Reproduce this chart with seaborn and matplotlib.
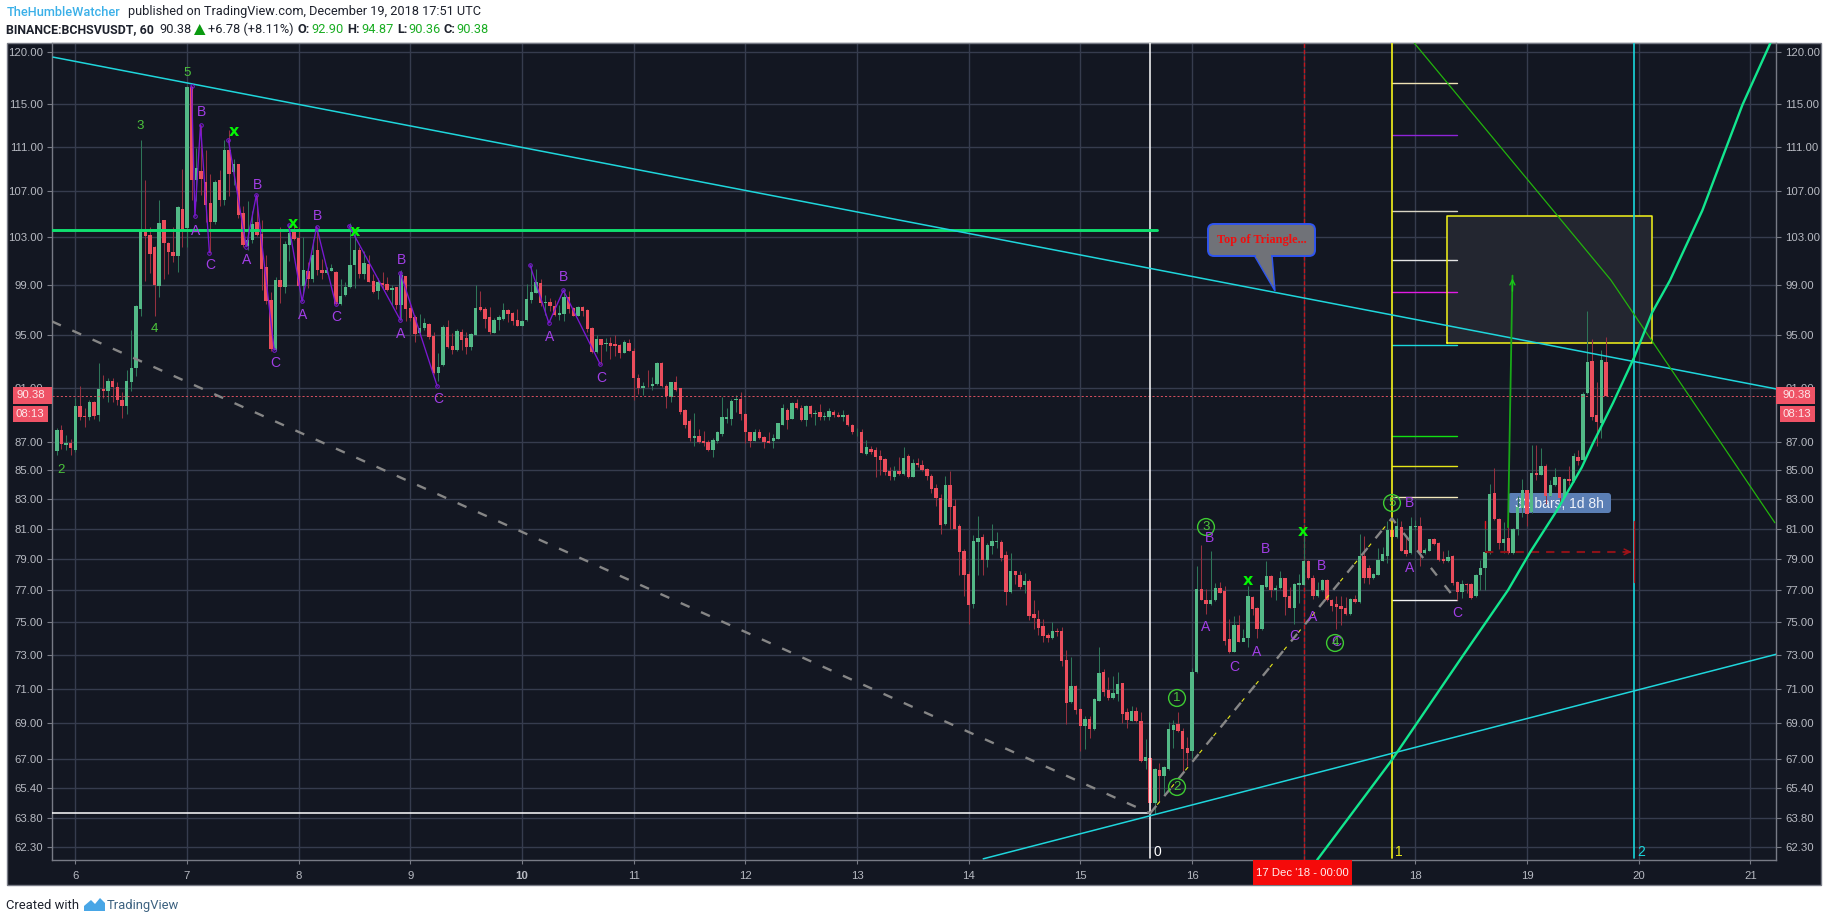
import numpy as np
import matplotlib
matplotlib.use('Agg')
import matplotlib.pyplot as plt
import seaborn as sns
from matplotlib.patches import Rectangle, FancyBboxPatch, Circle, Polygon
from matplotlib.ticker import FixedLocator, FixedFormatter, NullLocator
from matplotlib.transforms import IdentityTransform

W, H = 1828, 922

# hourly candles, first one is 5 Dec 20:00
bar_open = [
    86.35,87.85,86.8,86.9,86.4,89.65,88.9,88.85,89.9,88.95,
    90.9,90.75,91.5,91.05,90.1,89.65,91.4,92.45,97.05,103.6,
    103.2,102.2,98.95,104.45,102.55,101.8,101.4,105.45,103.8,116.6,
    107.95,108.75,107.8,105.95,104.35,108.0,106.25,110.7,108.7,109.4,
    105.05,102.25,102.8,104.35,103.3,100.5,97.85,93.9,99.45,98.85,
    102.35,103.45,102.95,98.95,100.2,99.5,101.95,100.3,100.05,100.2,
    100.1,97.5,98.2,98.85,100.7,101.95,99.95,100.8,99.35,98.55,
    99.2,99.1,98.6,98.85,97.4,99.75,97.2,96.45,95.2,95.6,
    95.9,94.95,92.1,92.7,95.65,94.2,93.85,95.3,94.8,94.1,
    95.05,97.25,97.1,96.45,95.2,96.2,96.3,97.0,96.8,96.2,
    95.75,96.2,97.8,98.4,99.2,97.6,97.65,97.35,96.6,96.7,
    98.05,97.2,96.55,97.25,97.0,95.6,93.7,94.7,94.35,94.4,
    94.35,94.25,93.65,94.4,93.8,91.7,91.0,91.15,91.1,91.25,
    92.85,91.15,90.3,91.4,90.95,89.3,88.55,87.3,87.45,87.1,
    87.0,86.45,87.1,87.6,88.7,88.7,90.1,90.15,89.05,87.7,
    87.1,87.7,87.4,87.1,87.1,87.25,88.25,89.35,88.7,89.85,
    89.45,88.6,89.65,89.05,89.2,88.85,88.85,89.2,89.0,88.85,
    89.0,88.25,87.7,87.75,86.15,86.5,86.4,86.0,85.8,84.95,
    84.55,84.95,84.75,86.0,84.55,85.5,85.4,85.1,84.6,83.8,
    83.1,81.3,84.0,82.5,81.15,79.55,78.05,76.15,80.1,80.45,
    78.95,79.85,80.15,80.1,79.25,76.9,78.2,78.0,77.3,77.6,
    75.5,75.2,74.75,74.2,74.0,74.45,74.45,72.7,70.2,71.15,
    69.8,68.85,69.25,68.65,70.3,71.95,70.9,70.45,70.7,71.3,
    69.65,69.15,69.7,69.15,66.9,67.05,64.6,66.4,66.05,66.45,
    68.6,68.95,68.55,67.6,67.45,71.95,77.1,76.4,76.1,76.35,
    77.15,76.95,73.95,73.2,74.85,73.8,74.0,76.55,75.85,74.55,
    77.2,77.9,77.0,77.15,77.75,76.6,75.9,77.3,77.35,78.85,
    77.8,76.6,77.0,77.65,76.4,76.1,76.0,75.9,75.5,76.45,
    76.25,79.2,78.4,77.75,78.0,78.9,79.2,80.9,80.45,81.1,
    79.6,79.4,81.1,81.2,79.4,79.55,80.3,80.05,79.0,78.85,
    79.2,77.55,76.9,77.4,77.4,76.6,77.95,78.4,79.4,83.45,
    81.65,80.05,80.4,79.4,80.95,82.4,83.6,82.1,84.8,84.7,
    85.3,83.25,83.95,84.5,83.15,84.4,84.25,85.95,85.75,90.6,
    93.05,89.0,88.4,92.9]
bar_close = [
    87.85,86.85,86.9,86.55,89.6,88.85,88.8,89.9,88.9,90.9,
    90.75,91.5,91.05,90.1,89.65,91.5,92.5,97.3,103.6,103.15,
    101.6,99.0,104.2,102.55,101.75,101.45,105.6,103.5,116.6,108.0,
    109.05,108.05,105.75,104.35,107.85,106.25,110.7,108.55,109.4,104.95,
    102.35,102.8,104.15,103.2,100.35,97.75,93.95,99.45,98.85,102.4,
    103.35,102.85,98.95,100.28,99.5,101.55,100.3,100.05,100.3,100.45,
    97.5,98.15,98.85,100.7,101.95,99.95,100.85,99.3,98.45,99.3,
    99.05,98.6,98.8,97.4,99.85,97.1,96.4,95.1,95.6,96.0,
    94.85,92.1,92.55,95.65,94.1,93.85,95.35,94.65,94.1,95.1,
    97.2,97.0,96.3,95.25,96.2,96.45,97.0,96.7,96.15,95.75,
    96.15,97.9,98.45,99.25,97.6,97.65,97.35,96.6,96.8,98.05,
    97.1,96.55,97.25,96.95,95.5,93.7,94.7,94.25,94.4,94.2,
    94.2,93.65,94.5,93.8,91.7,91.0,91.1,91.1,91.25,92.85,
    91.1,90.35,91.4,90.8,89.15,88.25,87.3,87.45,87.0,86.95,
    86.4,87.15,87.75,88.8,88.85,90.0,90.15,89.05,87.75,87.1,
    87.7,87.3,87.0,86.95,87.3,88.35,89.45,88.6,89.85,89.45,
    88.6,89.65,89.05,89.1,88.85,88.9,89.25,89.0,88.85,89.0,
    88.2,87.7,87.75,86.25,86.65,86.3,85.95,85.75,84.9,84.6,
    84.95,84.75,85.85,84.55,85.5,85.35,85.0,84.6,83.7,83.1,
    81.25,84.0,82.45,81.0,79.45,78.0,76.05,80.2,80.4,78.95,
    79.9,80.2,80.2,79.1,76.9,78.2,78.0,77.2,77.6,75.4,
    75.25,74.65,74.15,74.0,74.45,74.4,72.65,70.15,71.15,69.75,
    68.85,69.25,68.65,70.4,71.9,70.8,70.45,70.75,71.25,69.55,
    69.2,69.7,69.1,66.9,67.1,64.6,66.45,66.05,66.55,68.65,
    68.9,68.55,67.55,67.35,71.95,77.1,76.4,76.1,76.35,77.15,
    76.85,73.85,73.15,74.85,73.8,74.05,76.6,75.8,74.55,77.3,
    77.9,77.0,77.15,77.75,76.55,75.9,77.4,77.45,78.85,77.75,
    76.6,77.0,77.65,76.35,76.0,75.95,75.8,75.5,76.45,76.25,
    79.2,77.75,77.75,78.05,78.95,79.3,80.9,80.45,81.2,79.55,
    79.35,81.15,81.2,79.4,79.6,80.3,80.0,78.95,78.85,79.15,
    77.45,76.9,77.4,77.35,76.5,78.0,78.45,79.45,83.35,81.65,
    80.05,80.3,79.4,81.0,82.45,83.6,82.0,84.8,84.7,85.3,
    83.25,84.0,84.5,83.1,84.4,84.25,86.0,85.65,90.5,92.95,
    88.85,88.45,93.1,90.38]
bar_high = [
    88.05,88.2,87.5,87.2,90.2,91.15,89.5,90.1,90.0,92.85,
    91.95,91.7,91.7,91.45,90.7,92.35,95.45,97.4,111.6,107.95,
    103.9,102.3,106.2,104.5,102.6,103.9,105.7,109.0,116.7,116.7,
    110.85,113.0,110.7,108.5,108.0,108.9,111.6,112.55,109.9,109.45,
    105.7,106.1,105.3,106.65,104.5,101.5,98.45,99.7,103.9,102.7,
    104.0,104.0,103.9,103.0,100.95,102.85,103.85,101.15,100.55,100.75,
    100.15,99.5,99.25,104.2,103.4,102.2,101.85,101.5,99.95,99.6,
    100.1,99.65,99.05,98.9,100.25,99.8,97.5,96.6,96.7,96.4,
    95.95,95.3,93.6,95.8,96.2,95.15,95.5,95.5,95.3,95.15,
    99.0,98.55,97.25,97.25,96.35,96.6,97.55,97.1,96.85,97.1,
    96.2,99.1,100.7,100.35,99.5,98.25,98.0,97.8,97.4,98.7,
    98.55,97.25,97.3,97.3,97.05,95.65,95.0,94.75,94.8,94.9,
    95.0,94.3,94.65,94.7,94.0,92.0,91.45,92.3,91.8,92.95,
    92.95,91.3,91.45,91.85,91.0,89.4,88.7,89.1,87.95,87.8,
    87.15,87.3,87.8,90.3,89.45,90.15,90.45,90.65,89.1,87.75,
    87.95,87.95,87.45,87.7,87.55,88.4,89.8,89.5,89.9,90.15,
    89.7,89.7,89.7,89.35,89.8,89.2,89.5,89.35,89.2,89.35,
    89.05,88.3,88.05,87.95,87.15,86.7,86.65,86.45,85.85,85.25,
    85.3,85.95,86.65,86.15,85.8,85.85,85.75,85.15,84.75,84.05,
    83.35,84.6,84.95,83.0,81.35,79.65,78.2,80.6,81.85,80.65,
    80.05,81.35,80.75,80.25,79.55,79.4,78.2,78.2,78.1,77.7,
    76.4,75.75,75.2,74.35,75.0,74.65,74.7,73.3,72.9,71.2,
    69.85,69.4,69.4,70.45,73.5,72.15,71.65,71.75,72.0,71.35,
    69.85,70.0,69.95,69.65,68.1,67.1,66.5,66.75,66.6,69.05,
    69.2,69.65,68.7,68.2,72.2,78.55,79.9,77.1,79.5,77.45,
    77.5,77.25,75.2,75.35,75.45,74.6,77.25,76.6,75.95,77.35,
    78.9,77.95,77.35,78.25,77.8,77.2,77.45,78.05,80.65,78.95,
    78.0,77.5,77.7,77.7,76.45,76.6,76.6,76.55,76.5,76.7,
    80.65,80.5,78.6,78.1,79.75,79.8,81.55,81.3,81.75,81.55,
    80.45,81.8,81.6,81.8,79.7,80.35,80.4,80.1,79.55,79.6,
    79.25,77.6,77.65,77.45,77.45,78.05,78.95,81.4,84.05,85.15,
    81.7,81.45,81.15,81.05,83.2,84.4,83.65,86.8,86.8,86.55,
    85.45,84.35,85.15,84.55,84.45,85.3,86.25,86.45,90.7,96.95,
    94.7,91.4,93.9,94.87]
bar_low = [
    86.05,86.5,86.4,86.1,86.3,88.6,88.1,88.6,88.7,88.5,
    90.2,89.95,89.9,89.7,88.75,89.05,90.75,91.85,96.55,99.35,
    100.05,96.55,98.05,99.55,99.95,100.9,100.1,102.2,102.2,106.25,
    106.1,106.65,104.3,101.7,104.15,105.7,105.8,106.6,107.55,104.65,
    102.2,101.95,102.5,103.1,98.6,97.5,93.75,93.8,97.6,98.35,
    101.0,102.8,98.9,98.35,98.75,99.3,99.85,99.5,99.95,100.15,
    97.4,97.45,98.15,98.8,98.8,99.6,99.55,99.25,98.35,97.9,
    98.75,98.55,97.4,97.1,96.2,96.1,96.15,94.5,95.15,95.45,
    94.7,92.05,91.5,92.65,94.05,93.55,93.8,93.85,93.55,93.85,
    95.0,96.95,95.6,95.1,95.15,95.45,96.25,96.05,95.8,95.7,
    95.7,96.15,97.55,98.35,97.35,96.6,96.9,96.5,96.2,96.15,
    96.75,96.5,96.5,96.55,95.25,93.6,93.65,92.75,93.75,93.2,
    93.4,93.25,93.6,93.75,90.05,90.5,90.45,91.05,90.8,91.2,
    91.05,89.45,89.9,90.75,89.05,88.05,87.1,86.7,86.9,86.75,
    86.35,85.95,86.9,87.45,88.35,88.25,89.2,88.6,86.95,86.65,
    87.05,87.25,86.6,86.9,86.6,87.2,88.2,87.95,88.65,89.4,
    88.5,88.15,88.85,88.25,88.6,88.6,88.6,88.8,88.8,88.55,
    88.15,87.6,87.45,86.2,86.1,86.15,84.55,84.65,84.65,84.3,
    84.3,84.7,84.65,84.45,84.5,85.25,84.95,84.35,83.45,82.55,
    80.65,81.25,81.0,80.95,77.95,76.65,74.9,75.9,78.0,78.0,
    78.5,79.35,79.7,78.85,76.05,76.85,77.4,77.05,76.85,75.1,
    74.6,74.2,73.8,73.8,73.95,74.15,72.35,68.95,70.15,69.55,
    67.45,67.55,68.15,68.6,70.25,70.55,70.35,70.4,70.3,69.0,
    68.7,69.1,69.05,66.85,66.45,64.2,64.0,64.65,65.1,66.4,
    67.6,68.5,66.3,66.6,67.05,71.9,76.35,75.5,76.05,76.3,
    76.8,73.6,73.1,73.15,73.75,73.95,73.45,75.45,74.05,74.5,
    77.15,76.55,76.35,77.1,75.45,75.85,74.9,76.2,77.3,77.7,
    76.45,76.55,76.95,76.3,75.7,74.55,74.85,75.45,75.45,76.2,
    76.2,77.45,77.4,77.7,77.95,78.85,78.75,79.0,80.4,79.5,
    79.2,79.35,80.9,78.55,79.35,79.5,79.95,78.9,78.75,78.8,
    77.3,76.35,76.5,76.8,76.45,76.55,77.0,77.0,79.35,81.6,
    79.65,79.4,79.35,79.35,80.55,81.8,81.15,82.05,84.35,84.65,
    82.7,83.2,83.9,82.6,83.1,83.95,84.2,85.4,85.7,90.55,
    88.6,86.7,87.3,90.36]
first_bar_day = 5 + 20 / 24

price_ticks = [120, 115, 111, 107, 103, 99, 95, 91, 87, 85, 83, 81, 79, 77, 75, 73, 71, 69, 67, 65.4, 63.8, 62.3]
day_ticks = list(range(6, 22))
last_price = 90.38

# drawings, all as (day, price)
upper_trend_days = [5.80, 21.23]
upper_trend_prices = [119.5, 90.9]
lower_trend_days = [14.13, 21.24]
lower_trend_prices = [61.7, 73.05]
support_days = [5.79, 15.69]
support_prices = [103.6, 103.6]
floor_days = [5.79, 15.625]
floor_prices = [64.05, 64.05]
fall_days = [5.79, 15.625]
fall_prices = [96.1, 64.06]
rise_days = [15.625, 17.79, 18.33]
rise_prices = [64.06, 81.7, 76.7]
curve_days = [17.12, 17.79, 18.40, 18.83, 19.03, 19.27, 19.49, 19.59, 19.77, 19.96, 20.12, 20.28, 20.57, 20.75, 20.93, 21.18]
curve_prices = [61.64, 66.94, 72.7, 77.0, 79.47, 82.26, 85.2, 86.9, 89.85, 93.3, 96.8, 99.4, 105.3, 110.0, 114.9, 120.9]
thin_green_days = [17.99, 19.75, 21.22]
thin_green_prices = [120.9, 99.45, 81.4]
target_days = [18.83, 18.87]
target_prices = [81.1, 99.8]
zigzags = [
    ([7.04, 7.07, 7.12, 7.20], [116.7, 104.8, 113.0, 101.7]),
    ([7.37, 7.53, 7.62, 7.78], [111.6, 102.2, 106.65, 93.85]),
    ([7.91, 8.03, 8.16, 8.33], [104.07, 97.7, 103.9, 97.5]),
    ([8.45, 8.91, 8.91, 9.24], [104.0, 96.2, 100.05, 91.1]),
    ([10.07, 10.24, 10.37, 10.70], [100.7, 95.97, 98.6, 92.75]),
]
fib_days = [17.795, 18.375]
fib_prices = [116.96, 112.06, 105.27, 101.1, 98.46, 94.25, 87.43, 85.3, 83.15, 76.38]
fib_colors = ['#efe3b5', '#8e24d8', '#d8d4c4', '#e4e4e4', '#e31be3', '#19d6dc', '#12e012', '#e6e619', '#f3e9bd', '#f2f2f2']
box_days = [18.285, 20.12]
box_prices = [94.4, 104.85]
range_days = [18.62, 19.96]
range_price = 79.47
range_end_prices = [77.5, 81.5]
range_start_prices = [81.05, 81.5]

# (x, y) are pixels of the full picture
abc_labels = [('B', 201, 112), ('A', 196, 231), ('C', 210, 265), ('A', 247, 260), ('B', 257, 185), ('C', 275, 363),
              ('A', 303, 315), ('B', 317, 216), ('C', 336, 317), ('A', 401, 334), ('B', 401, 260), ('C', 438, 399),
              ('A', 550, 337), ('B', 564, 277), ('C', 601, 378), ('B', 1210, 538), ('A', 1206, 627), ('C', 1234, 667),
              ('A', 1257, 652), ('B', 1266, 549), ('C', 1294, 636), ('A', 1313, 617), ('B', 1322, 566), ('C', 1336, 642),
              ('A', 1410, 568), ('B', 1410, 503), ('C', 1457, 613)]
wave_labels = [('5', 187, 73), ('3', 140, 126), ('4', 154, 329), ('2', 61, 470)]
circle_labels = [('1', 1177, 698), ('2', 1177, 787), ('3', 1206, 527), ('4', 1335, 643), ('5', 1392, 503)]
x_labels = [(234, 132), (293, 224), (355, 231), (1248, 580), (1303, 532)]

BG = '#131722'
GRID = '#363c4e'
FRAME = '#787b86'
TICK_TEXT = '#b7bac2'
UP = '#53b987'
DOWN = '#eb4d5c'
PURPLE = '#a23ee6'
CYAN = '#1fd6dc'

sns.set_theme(style='darkgrid', rc={'axes.facecolor': BG, 'grid.color': GRID, 'lines.scale_dashes': False})
plt.rcParams['font.family'] = ['Liberation Sans', 'DejaVu Sans']
plt.rcParams['lines.scale_dashes'] = False


def fx(x):
    return x / W


def fy(y):
    return 1 - y / H


def px_text(x, y, s, **kw):
    kw.setdefault('ha', 'center')
    kw.setdefault('va', 'center')
    return fig.text(fx(x), fy(y), s, **kw)


def draw(days, prices, color, lw=1.0, ls='-', z=4, **kw):
    return sns.lineplot(x=days, y=prices, ax=ax, color=color, linewidth=lw, linestyle=ls, zorder=z,
                        estimator=None, sort=False, legend=False, **kw)


fig = plt.figure(figsize=(W / 100, H / 100), dpi=100, facecolor='white')
# dark panel behind the chart
fig.add_artist(Rectangle((fx(6.5), fy(885)), (1821 - 6.5) / W, (885 - 43) / H, transform=fig.transFigure,
                         fc=BG, ec=FRAME, lw=1.0, zorder=-1))
ax = fig.add_axes([fx(52), fy(860), (1776 - 52) / W, (860 - 43) / H])
ax.set_yscale('log')
ax.set_xlim(5.79, 21.23)
ax.set_ylim(61.64, 120.9)
ax.grid(True, which='major', color=GRID, lw=1.0)
ax.set_axisbelow(True)

# candles
df_days = first_bar_day + np.arange(len(bar_open)) / 24
o = np.array(bar_open)
c = np.array(bar_close)
up = c >= o
colors = np.where(up, UP, DOWN)
wick_colors = np.where(up, '#2e7558', '#94303f')
ax.vlines(df_days, bar_low, bar_high, colors=wick_colors, lw=0.75, zorder=3)
ax.bar(df_days, np.abs(c - o), bottom=np.minimum(o, c), width=3.4 / 111.65, color=colors, lw=0, zorder=3.1)

# last price
ax.axhline(last_price, color='#d9505f', lw=0.7, ls=(0, (1.5, 1.5)), zorder=3.2)

# fib time zones and vertical markers
ax.axvline(15.625, ymin=0.003, color='white', lw=1.1, zorder=4)
ax.axvline(17, color='#c4161c', lw=1.0, ls=(0, (3, 1.5)), zorder=2.8)
ax.axvline(17.795, ymin=0.003, color='#f5f51a', lw=1.2, zorder=4)
ax.axvline(19.96, ymin=0.003, color='#19d6dc', lw=1.2, zorder=4)

# fib levels
for level, col in zip(fib_prices, fib_colors):
    draw(fib_days, [level, level], col, lw=1.0, z=2.9)

# yellow target box
ax.fill_between(box_days, box_prices[0], box_prices[1], color='#232630', lw=0, zorder=1.5)
draw([box_days[0], box_days[1], box_days[1], box_days[0], box_days[0]],
     [box_prices[0], box_prices[0], box_prices[1], box_prices[1], box_prices[0]], '#f5f51a', lw=1.1, z=2.9)

# trend lines
draw(upper_trend_days, upper_trend_prices, CYAN, lw=1.1, z=4.2)
draw(lower_trend_days, lower_trend_prices, CYAN, lw=1.1, z=4.2)
draw(support_days, support_prices, '#10e070', lw=2.1, z=4.1)
draw(floor_days, floor_prices, 'white', lw=1.1, z=4.1)
draw(fall_days, fall_prices, '#868686', lw=1.7, ls=(0, (7, 9)), z=4.3)
draw(rise_days, rise_prices, '#868686', lw=1.7, ls=(0, (7, 9)), z=4.3)
draw(rise_days[:2], rise_prices[:2], '#e8e81a', lw=0.8, ls=(8, (3, 13)), z=4.4)
draw(curve_days, curve_prices, '#12e68e', lw=1.7, z=4.5)
draw(thin_green_days, thin_green_prices, '#22b40c', lw=0.9, z=4.2)

# green target arrow
draw(target_days, target_prices, '#18a818', lw=1.3, z=4.2)
ax.annotate('', xy=(target_days[1], target_prices[1]), xytext=(target_days[1] - 0.001, target_prices[1] * 0.985),
            arrowprops=dict(arrowstyle='->', color='#18c818', lw=1.0, mutation_scale=9), zorder=4.3)

# wave A-B-C zigzags
for zz_days, zz_prices in zigzags:
    draw(zz_days, zz_prices, '#7a18d2', lw=0.95, z=4.6, marker='o', markersize=2.6,
         markerfacecolor='none', markeredgecolor='#7a18d2', markeredgewidth=0.7)

# date range tool
draw(range_days, [range_price, range_price], '#8c1218', lw=1.5, ls=(0, (6, 5)), z=4.2)
ax.annotate('', xy=(range_days[1], range_price), xytext=(range_days[1] - 0.1, range_price),
            arrowprops=dict(arrowstyle='->', color='#a01218', lw=1.1, mutation_scale=10), zorder=4.3)
draw([range_days[1], range_days[1]], range_end_prices, '#c01820', lw=1.0, z=4.7)
draw([range_days[0], range_days[0]], range_start_prices, '#e01820', lw=1.0, z=4.2)

# range label sits under the candles
tr = IdentityTransform()
ax.add_artist(FancyBboxPatch((1508, H - 513), 103, 20, boxstyle='round,pad=0,rounding_size=3', fc='#5b7fb5', lw=0,
                             transform=tr, zorder=2.5))
ax.text(1559.5, H - 503.5, '32 bars, 1d 8h', color='#f0f3fa', fontsize=10, ha='center', va='center', transform=tr,
        zorder=2.6)

ax.set_xlim(5.79, 21.23)
ax.set_ylim(61.64, 120.9)
ax.yaxis.set_major_locator(FixedLocator(price_ticks))
ax.yaxis.set_major_formatter(FixedFormatter([f'{p:.2f}' for p in price_ticks]))
ax.yaxis.set_minor_locator(NullLocator())
ax.yaxis.set_minor_formatter(FixedFormatter([]))
# the red date tag hides the 17 label
ax.set_xticks(day_ticks, ['' if d == 17 else str(d) for d in day_ticks])
ax.xaxis.set_minor_locator(NullLocator())
ax.tick_params(axis='y', which='major', left=True, right=True, labelleft=True, labelright=True, length=3.5, width=0.8,
               color=FRAME, labelcolor=TICK_TEXT, labelsize=8.2, pad=3)
ax.tick_params(axis='x', which='major', bottom=True, length=3, width=0.8, color=FRAME, labelcolor=TICK_TEXT,
               labelsize=8.2, pad=5)
for lab in ax.get_xticklabels():
    if lab.get_text() == '10':
        lab.set_fontweight('bold')
for side, spine in ax.spines.items():
    spine.set_visible(True)
    spine.set_color(FRAME)
    spine.set_linewidth(1.0)

# labels on the chart
for s, x, y in abc_labels:
    px_text(x, y, s, color=PURPLE, fontsize=10, zorder=6)
for s, x, y in wave_labels:
    px_text(x, y, s, color='#4cc53c', fontsize=9.5, zorder=6)
for s, x, y in circle_labels:
    px_text(x, y, s, color='#4cc53c', fontsize=9.5, zorder=6)
    fig.add_artist(Circle((x, H - y), 8.4, transform=tr, fc='none', ec='#3ecb32', lw=1.0, zorder=6))
for x, y in x_labels:
    px_text(x, y, 'x', color='#05f505', fontsize=11.5, fontweight='bold', family='DejaVu Sans', zorder=6)
px_text(1157, 852, '0', color='white', fontsize=10, zorder=6)
px_text(1399, 852, '1', color='#e6e619', fontsize=10, zorder=6)
px_text(1641, 852, '2', color='#19d6dc', fontsize=10, zorder=6)

# callout
fig.add_artist(Polygon([(1254, H - 255), (1275, H - 291), (1272, H - 255)], closed=True, transform=tr, fc='#707278',
                       ec='#2f55f0', lw=1.0, zorder=6))
fig.add_artist(FancyBboxPatch((1208, H - 256), 107, 32, boxstyle='round,pad=0,rounding_size=6', fc='#707278',
                              ec='#2f55f0', lw=1.4, transform=tr, zorder=6.1))
fig.add_artist(Rectangle((1255.5, H - 257.5), 15.5, 4, transform=tr, fc='#707278', lw=0, zorder=6.2))
px_text(1261.5, 240, 'Top of Triangle...', color='#ee1010', fontsize=8.8, fontweight='bold', family='Liberation Serif',
        zorder=6.3)

# price tags
TAG = '#ef5366'
for x0, x1, y0, y1, s, tx in [(13, 52, 387, 404, '90.38', 31), (13, 48, 405.5, 421.5, '08:13', 30),
                              (1776, 1815, 387, 404, '90.38', 1797), (1780, 1815, 405.5, 421.5, '08:13', 1797)]:
    fig.add_artist(Rectangle((x0, H - y1), x1 - x0, y1 - y0, transform=tr, fc=TAG, lw=0, zorder=7))
    px_text(tx, (y0 + y1) / 2, s, color='#fde8ea', fontsize=8.2, zorder=8)

# red date tag
fig.add_artist(Rectangle((1253, H - 885), 99, 25, transform=tr, fc='#f50a0a', lw=0, zorder=7))
px_text(1302.5, 872.5, "17 Dec '18 - 00:00", color='#fff0f0', fontsize=8.2, zorder=8)

# header
HF = ['Roboto', 'DejaVu Sans']
GREEN_TXT = '#19ad22'
INK = '#1e222d'
HS = 9.15
px_text(6.5, 12, 'TheHumbleWatcher', ha='left', color='#3bb0e8', fontsize=HS, family=HF, fontweight='medium')
px_text(128, 12, 'published on TradingView.com, December 19, 2018 17:51 UTC', ha='left', color=INK, fontsize=HS, family=HF)
px_text(6.5, 29.5, 'BINANCE:BCHSVUSDT, 60', ha='left', color=INK, fontsize=8.9, family=HF, fontweight='bold')
px_text(159, 29.5, '90.38', ha='left', color=INK, fontsize=HS, family=HF)
fig.add_artist(Polygon([(194, H - 35), (205.5, H - 35), (199.7, H - 24)], closed=True, transform=tr, fc='#0a9a10', lw=0))
px_text(208, 29.5, '+6.78 (+8.11%)', ha='left', color=INK, fontsize=HS, family=HF)
for key, kx, val, vx in [('O:', 297.5, '92.90', 311), ('H:', 347, '94.87', 361), ('L:', 397, '90.36', 408),
                         ('C:', 444, '90.38', 456)]:
    px_text(kx, 29.5, key, ha='left', color=INK, fontsize=HS, family=HF, fontweight='bold')
    px_text(vx, 29.5, val, ha='left', color=GREEN_TXT, fontsize=HS, family=HF)

# footer
px_text(6, 905, 'Created with', ha='left', color=INK, fontsize=9.4, family=HF)
fig.add_artist(Polygon([(84, H - 911), (84, H - 906), (91, H - 900), (95, H - 904), (100, H - 898), (105, H - 903), (105, H - 911)],
                       closed=True, transform=tr, fc='#48a6e6', lw=0))
px_text(107, 905, 'TradingView', ha='left', color='#3d6280', fontsize=9.4, family=HF)

fig.savefig('out.png', dpi=100, facecolor='white')
